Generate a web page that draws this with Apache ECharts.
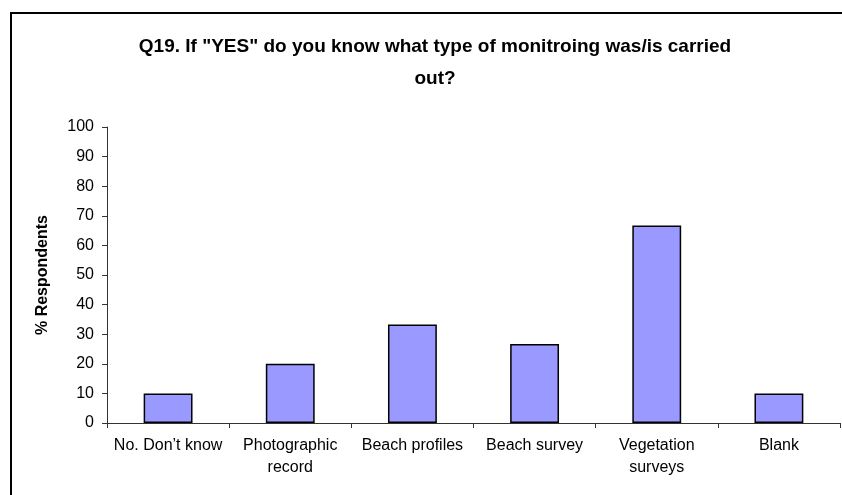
<!DOCTYPE html>
<html>
<head>
<meta charset="utf-8">
<script src="https://cdn.jsdelivr.net/npm/echarts@6/dist/echarts.min.js"></script>
<style>
  html, body { margin: 0; padding: 0; background: #fff; }
  #chart { width: 842px; height: 495px; }
</style>
</head>
<body>
<div id="chart"></div>
<script>
// Survey answers: type of monitoring carried out
const categories = ['No. Don\u2019t know', 'Photographic\nrecord', 'Beach profiles', 'Beach survey', 'Vegetation\nsurveys', 'Blank'];
const percentRespondents = [10, 20, 33.3, 26.7, 66.7, 10];
const yTicks = { min: 0, max: 100, interval: 10 };

const FONT = 'Arial, "Liberation Sans", sans-serif';
const chart = echarts.init(document.getElementById('chart'), null, { renderer: 'canvas' });

chart.setOption({
  backgroundColor: '#ffffff',
  animation: false,
  textStyle: { fontFamily: FONT },
  graphic: [{
    type: 'rect',
    shape: { x: 11, y: 13, width: 900, height: 600 },
    style: { fill: 'none', stroke: '#000', lineWidth: 2 },
    z: -1
  }],
  title: {
    text: 'Q19. If "YES" do you know what type of monitroing was/is carried\nout?',
    left: 430,
    top: 26,
    textAlign: 'center',
    textStyle: {
      fontFamily: FONT,
      fontSize: 19,
      fontWeight: 'bold',
      color: '#000',
      lineHeight: 32
    }
  },
  grid: { left: 107, right: 2, top: 127, bottom: 72 },
  xAxis: {
    type: 'category',
    data: categories,
    axisLine: { lineStyle: { color: '#333', width: 1 } },
    axisTick: { show: true, length: 5, alignWithLabel: false, lineStyle: { color: '#333' } },
    axisLabel: {
      color: '#000', fontSize: 16, margin: 12, lineHeight: 22, interval: 0,
      fontFamily: FONT
    }
  },
  yAxis: {
    type: 'value',
    min: yTicks.min,
    max: yTicks.max,
    interval: yTicks.interval,
    name: '% Respondents',
    nameLocation: 'middle',
    nameGap: 56,
    nameTextStyle: { fontSize: 16, fontWeight: 'bold', color: '#000', fontFamily: FONT },
    axisLine: { show: true, lineStyle: { color: '#333', width: 1 } },
    axisTick: { show: true, length: 5, lineStyle: { color: '#333' } },
    splitLine: { show: false },
    axisLabel: { color: '#000', fontSize: 16, margin: 13, fontFamily: FONT }
  },
  series: [{
    type: 'bar',
    data: percentRespondents,
    barWidth: '40%',
    itemStyle: { color: '#9999FF', borderColor: '#000', borderWidth: 1.5 }
  }]
});
</script>
</body>
</html>
